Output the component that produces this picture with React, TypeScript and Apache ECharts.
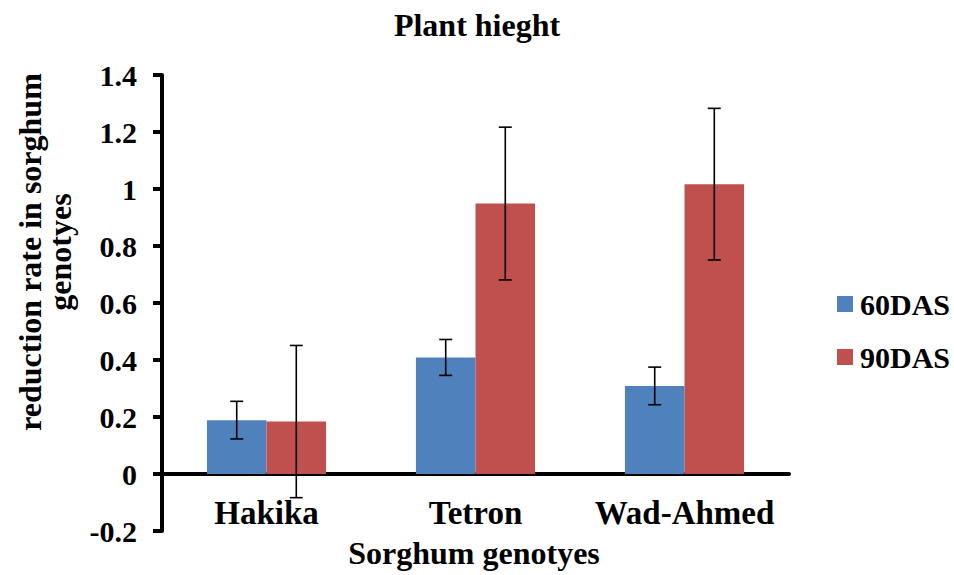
import React, { useEffect, useRef } from "react";
import * as echarts from "echarts";

const categories = ["Hakika", "Tetron", "Wad-Ahmed"];
const seriesNames = ["60DAS", "90DAS"];
const values60 = [0.189, 0.409, 0.309];
const values90 = [0.184, 0.949, 1.017];
const err60 = [0.066, 0.063, 0.066];
const err90 = [0.267, 0.268, 0.266];
const yTicks = { min: -0.2, max: 1.4, interval: 0.2 };

const FONT = "'Liberation Serif', 'Times New Roman', serif";
const BLUE = "#4F81BD";
const RED = "#C0504D";

const BAR_CATEGORY_GAP = 0.43;

function errorData(vals: number[], errs: number[]) {
  return vals.map((v, i) => [i, v - errs[i], v + errs[i]]);
}

function makeErrorRenderer(side: number) {
  return (params: any, api: any) => {
    const idx = api.value(0);
    const low = api.value(1);
    const high = api.value(2);
    const band = api.size([1, 0])[0];
    const barW = (band * (1 - BAR_CATEGORY_GAP)) / 2;
    const off = (side * barW) / 2;
    const pH = api.coord([idx, high]);
    const pL = api.coord([idx, low]);
    const x = pH[0] + off;
    const cap = 6.5;
    const style = { stroke: "#000", lineWidth: 1.6 };
    return {
      type: "group",
      children: [
        { type: "line", shape: { x1: x, y1: pH[1], x2: x, y2: pL[1] }, style },
        { type: "line", shape: { x1: x - cap, y1: pH[1], x2: x + cap, y2: pH[1] }, style },
        { type: "line", shape: { x1: x - cap, y1: pL[1], x2: x + cap, y2: pL[1] }, style },
      ],
    };
  };
}

export default function App() {
  const ref = useRef<HTMLDivElement>(null);
  useEffect(() => {
    if (!ref.current) return;
    const chart = echarts.init(ref.current, null, { renderer: "svg" });
    chart.setOption({
      animation: false,
      backgroundColor: "#ffffff",
      title: {
        text: "Plant hieght",
        left: "center",
        top: 4,
        textStyle: { fontFamily: FONT, fontWeight: "bold", fontSize: 32, color: "#000" },
      },
      legend: {
        orient: "vertical",
        left: 832,
        top: 284,
        itemWidth: 16,
        itemHeight: 16,
        itemGap: 23,
        icon: "rect",
        data: seriesNames,
        textStyle: {
          fontFamily: FONT,
          fontWeight: "bold",
          fontSize: 30,
          lineHeight: 30,
          color: "#000",
          padding: [0, 0, 0, 2],
        },
      },
      grid: { left: 162, right: 165, top: 75, bottom: 44, containLabel: false },
      xAxis: {
        type: "category",
        data: categories,
        axisLine: { onZero: true, lineStyle: { color: "#000", width: 4 } },
        axisTick: { show: false },
        axisLabel: {
          interval: 0,
          hideOverlap: false,
          fontFamily: FONT,
          fontWeight: "bold",
          fontSize: 33,
          lineHeight: 33,
          color: "#000",
          margin: -35,
        },
        splitLine: { show: false },
      },
      yAxis: {
        type: "value",
        min: yTicks.min,
        max: yTicks.max,
        interval: yTicks.interval,
        axisLine: { show: true, onZero: false, lineStyle: { color: "#000", width: 4 } },
        axisTick: { show: true, inside: false, length: 9, lineStyle: { color: "#000", width: 4 } },
        axisLabel: {
          fontFamily: FONT,
          fontWeight: "bold",
          fontSize: 30,
          color: "#000",
          margin: 25,
          formatter: (v: number) => String(Math.round(v * 10) / 10),
        },
        splitLine: { show: false },
      },
      graphic: [
        {
          type: "text",
          x: 45,
          y: 252,
          rotation: Math.PI / 2,
          style: {
            text: "reduction rate in sorghum\ngenotyes",
            fontFamily: FONT,
            fontWeight: "bold",
            fontSize: 32,
            lineHeight: 30,
            fill: "#000",
            textAlign: "center",
            textVerticalAlign: "middle",
          },
        },
        {
          type: "text",
          x: 474,
          y: 553,
          style: {
            text: "Sorghum genotyes",
            fontFamily: FONT,
            fontWeight: "bold",
            fontSize: 32,
            fill: "#000",
            textAlign: "center",
            textVerticalAlign: "middle",
          },
        },
      ],
      series: [
        {
          name: seriesNames[0],
          type: "bar",
          data: values60,
          barGap: "0%",
          barCategoryGap: BAR_CATEGORY_GAP * 100 + "%",
          itemStyle: { color: BLUE },
        },
        {
          name: seriesNames[1],
          type: "bar",
          data: values90,
          barGap: "0%",
          barCategoryGap: BAR_CATEGORY_GAP * 100 + "%",
          itemStyle: { color: RED },
        },
        {
          type: "custom",
          name: "err60",
          renderItem: makeErrorRenderer(-1),
          data: errorData(values60, err60),
          z: 10,
          silent: true,
        },
        {
          type: "custom",
          name: "err90",
          renderItem: makeErrorRenderer(1),
          data: errorData(values90, err90),
          z: 10,
          silent: true,
        },
      ],
    });
    return () => chart.dispose();
  }, []);
  return (
    <div
      ref={ref}
      style={{ position: "fixed", left: 0, top: 0, width: 954, height: 575, background: "#fff" }}
    />
  );
}
